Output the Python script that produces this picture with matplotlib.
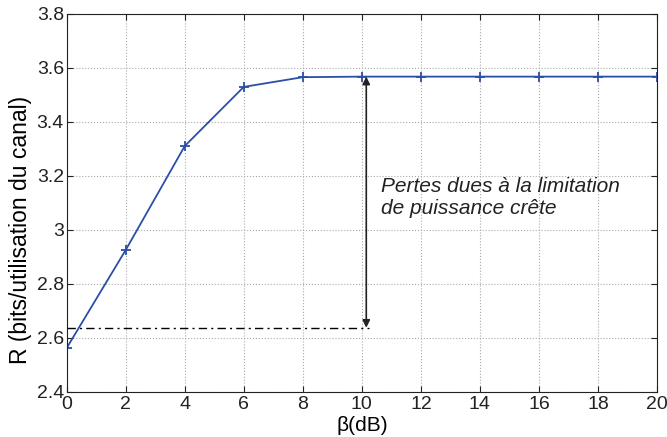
import matplotlib
matplotlib.use("Agg")
import matplotlib.pyplot as plt

plt.rcParams["font.family"] = ["Liberation Sans", "DejaVu Sans"]

beta = [0, 2, 4, 6, 8, 10, 12, 14, 16, 18, 20]
rate = [2.563, 2.926, 3.311, 3.530, 3.566, 3.568, 3.568, 3.568, 3.568, 3.568, 3.568]
r_limit = 2.638
beta_arrow = 10.15

fig = plt.figure(figsize=(6.67, 4.37), dpi=100)
ax = fig.add_axes([0.1, 0.103, 0.885, 0.865])

ax.plot(beta, rate, color="#2b4ea6", lw=1.3, marker="+", ms=7, mew=1.3)
ax.plot([0, beta_arrow + 0.1], [r_limit, r_limit], color="k", lw=1,
        ls=(0, (6, 3, 1.5, 3)))
ax.annotate("", xy=(beta_arrow, rate[-1]), xytext=(beta_arrow, r_limit),
            arrowprops=dict(arrowstyle="<|-|>", color="#222222", lw=1.2,
                            mutation_scale=11, shrinkA=0, shrinkB=0))
ax.text(10.65, 3.12, "Pertes dues à la limitation\nde puissance crête",
        fontsize=15, style="italic", color="#222222", va="center",
        linespacing=1.15)

ax.set_xlim(0, 20)
ax.set_ylim(2.4, 3.8)
ax.set_xticks(range(0, 21, 2))
ax.set_yticks([2.4, 2.6, 2.8, 3.0, 3.2, 3.4, 3.6, 3.8])
ax.set_yticklabels(["2.4", "2.6", "2.8", "3", "3.2", "3.4", "3.6", "3.8"])
ax.tick_params(direction="in", top=True, right=True, labelsize=14, length=4,
               colors="#222222", pad=3)
ax.tick_params(axis="y", pad=2)
ax.grid(True, ls=":", color="#aaaaaa", lw=0.8)
for s in ax.spines.values():
    s.set_color("#222222")
ax.set_xlabel("β(dB)", fontsize=15, va="center")
ax.xaxis.set_label_coords(0.5, -0.088)
ax.set_ylabel("R (bits/utilisation du canal)", fontsize=16.5, va="center")
ax.yaxis.set_label_coords(-0.078, 0.43)

fig.savefig("out.png", dpi=100)
